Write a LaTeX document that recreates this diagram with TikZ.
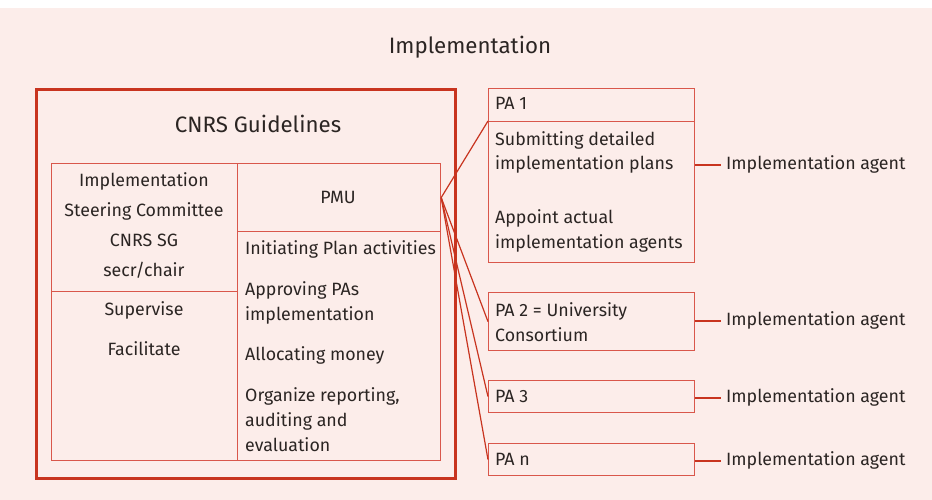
\documentclass[tikz,border=0pt]{standalone}
\usepackage{fontspec}
\setmainfont{Fira Sans}
\definecolor{bgpink}{HTML}{FCEDEA}
\definecolor{cellred}{HTML}{D9574B}
\definecolor{outerred}{HTML}{C8341F}
\definecolor{linkred}{HTML}{C8341F}
\definecolor{ink}{HTML}{2B2523}
\tikzset{
  cell/.style={draw=cellred, line width=1.2pt, inner sep=0pt, anchor=north west},
  outerbox/.style={draw=outerred, line width=2.6pt, inner sep=0pt, anchor=north west},
  txt/.style={text=ink, inner sep=0pt, font=\fontsize{17.8}{20}\selectfont, text height=12pt, text depth=4pt, yshift=-1.5pt},
  bigtxt/.style={text=ink, inner sep=0pt, font=\fontsize{22.3}{24}\selectfont, yshift=-2pt},
  link/.style={draw=linkred, line width=1.2pt},
}
\begin{document}
\begin{tikzpicture}[x=1pt,y=-1pt]
\useasboundingbox (0,0) rectangle (932,500);
\fill[white] (0,0) rectangle (932,500);
\fill[bgpink] (0,8) rectangle (932,500);

% title
\node[bigtxt] (title) at (470,45) {Implementation};

% outer box
\node[outerbox, minimum width=419pt, minimum height=389pt] (outer) at (35,88) {};
\node[bigtxt] (guide) at (258,122) {CNRS Guidelines};

% inner table
\node[cell, minimum width=186pt, minimum height=128pt] (stc) at (51,163) {};
\node[cell, minimum width=186pt, minimum height=169pt] (sup) at (51,291) {};
\node[cell, minimum width=203pt, minimum height=68pt] (pmu) at (237,163) {};
\node[cell, minimum width=203pt, minimum height=229pt] (act) at (237,231) {};

% left column texts
\node[txt] (s1) at (144,181) {Implementation};
\node[txt] (s2) at (144,211) {Steering Committee};
\node[txt] (s3) at (144,241) {CNRS SG};
\node[txt] (s4) at (144,271) {secr/chair};
\node[txt] (v1) at (144,310) {Supervise};
\node[txt] (v2) at (144,350) {Facilitate};

% right column texts
\node[txt] (pmut) at (338,198) {PMU};
\node[txt, anchor=west] (a1) at (245,249) {Initiating Plan activities};
\node[txt, anchor=west] (a2) at (245,290) {Approving PAs};
\node[txt, anchor=west] (a3) at (245,315) {implementation};
\node[txt, anchor=west] (a4) at (245,355) {Allocating money};
\node[txt, anchor=west] (a5) at (245,396) {Organize reporting,};
\node[txt, anchor=west] (a6) at (245,421) {auditing and};
\node[txt, anchor=west] (a7) at (245,446) {evaluation};

% PA boxes
\node[cell, minimum width=206pt, minimum height=33pt] (pa1h) at (488,88) {};
\node[cell, minimum width=206pt, minimum height=141pt] (pa1b) at (488,121) {};
\node[cell, minimum width=206pt, minimum height=58pt] (pa2) at (488,292) {};
\node[cell, minimum width=206pt, minimum height=32pt] (pa3) at (488,380) {};
\node[cell, minimum width=206pt, minimum height=32pt] (pan) at (488,443) {};

\node[txt, anchor=west] (p1) at (495,104) {PA 1};
\node[txt, anchor=west] (p1a) at (495,140) {Submitting detailed};
\node[txt, anchor=west] (p1b) at (495,164) {implementation plans};
\node[txt, anchor=west] (p1c) at (495,218) {Appoint actual};
\node[txt, anchor=west] (p1d) at (495,243) {implementation agents};
\node[txt, anchor=west] (p2a) at (495,311) {PA 2 = University};
\node[txt, anchor=west] (p2b) at (495,336) {Consortium};
\node[txt, anchor=west] (p3) at (495,397) {PA 3};
\node[txt, anchor=west] (pn) at (495,460) {PA n};

% agents
\node[txt, anchor=west, inner xsep=5pt, yshift=1.5pt] (ag1) at (721,165) {Implementation agent};
\node[txt, anchor=west, inner xsep=5pt, yshift=1.5pt] (ag2) at (721,321) {Implementation agent};
\node[txt, anchor=west, inner xsep=5pt, yshift=1.5pt] (ag3) at (721,398) {Implementation agent};
\node[txt, anchor=west, inner xsep=5pt, yshift=1.5pt] (agn) at (721,461) {Implementation agent};

\draw[link] (pa1b.east |- ag1.west) -- (ag1.west);
\draw[link] (pa2.east |- ag2.west) -- (ag2.west);
\draw[link] (pa3.east |- ag3.west) -- (ag3.west);
\draw[link] (pan.east |- agn.west) -- (agn.west);

% connectors from PMU
\draw[link] (pmu.east) -- (pa1b.north west);
\draw[link] (pmu.east) -- (pa2.west);
\draw[link] (pmu.east) -- (pa3.west);
\draw[link] (pmu.east) -- (pan.west);
\end{tikzpicture}
\end{document}
